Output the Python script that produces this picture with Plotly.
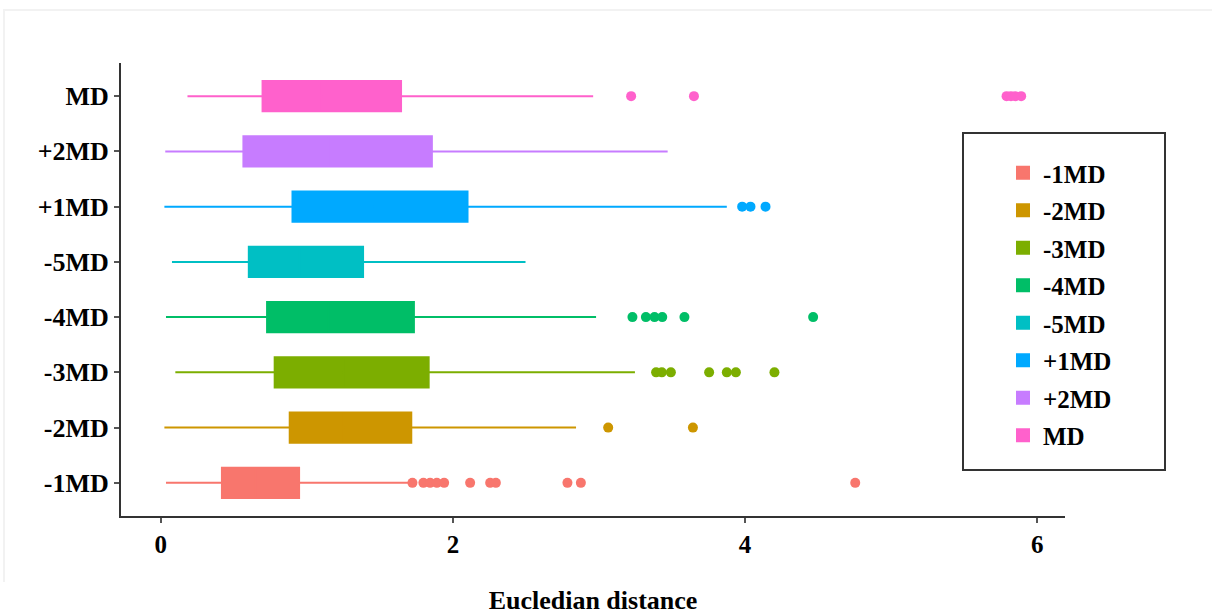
import plotly.graph_objects as go

categories = ["-1MD", "-2MD", "-3MD", "-4MD", "-5MD", "+1MD", "+2MD", "MD"]
colors = ["#F8766D", "#CD9600", "#7CAE00", "#00BE67", "#00BFC4", "#00A9FF", "#C77CFF", "#FF61CC"]

lower_whisker = [0.036, 0.025, 0.100, 0.036, 0.077, 0.025, 0.031, 0.183]
q1 = [0.419, 0.883, 0.780, 0.728, 0.603, 0.902, 0.566, 0.697]
median = [0.65, 1.25, 1.25, 1.15, 0.95, 1.45, 1.15, 1.10]
q3 = [0.947, 1.715, 1.834, 1.733, 1.385, 2.100, 1.856, 1.645]
upper_whisker = [1.700, 2.843, 3.246, 2.980, 2.497, 3.875, 3.470, 2.960]

outliers_m1 = [1.723, 1.798, 1.844, 1.890, 1.940, 2.118, 2.255, 2.294, 2.784, 2.876, 4.754]
outliers_m2 = [3.063, 3.643]
outliers_m3 = [3.391, 3.430, 3.492, 3.754, 3.875, 3.937, 4.201]
outliers_m4 = [3.229, 3.321, 3.380, 3.433, 3.585, 4.466]
outliers_m5 = []
outliers_p1 = [3.980, 4.037, 4.140]
outliers_p2 = []
outliers_md = [3.220, 3.650, 5.790, 5.820, 5.850, 5.890]

outliers = [outliers_m1, outliers_m2, outliers_m3, outliers_m4,
            outliers_m5, outliers_p1, outliers_p2, outliers_md]

font_family = "Liberation Serif"

fig = go.Figure()
for i, cat in enumerate(categories):
    fig.add_trace(go.Box(
        y=[cat], q1=[q1[i]], median=[median[i]], q3=[q3[i]],
        lowerfence=[lower_whisker[i]], upperfence=[upper_whisker[i]],
        orientation="h", name=cat, boxpoints=False,
        fillcolor=colors[i], line=dict(color=colors[i], width=2),
        whiskerwidth=0, legendgroup=cat, showlegend=True,
    ))
for i, cat in enumerate(categories):
    if outliers[i]:
        fig.add_trace(go.Scatter(
            x=outliers[i], y=[cat] * len(outliers[i]), mode="markers",
            marker=dict(color=colors[i], size=10), showlegend=False,
            legendgroup=cat, hoverinfo="x",
        ))

W, H = 1212, 615
ml, mr, mt, mb = 121, 147, 63, 99
pw, ph = W - ml - mr, H - mt - mb

def px2paper_x(p):
    return (p - ml) / pw

def px2paper_y(p):
    return (H - mb - p) / ph

fig.update_layout(
    width=W, height=H,
    margin=dict(l=ml, r=mr, t=mt, b=mb),
    paper_bgcolor="white", plot_bgcolor="white",
    boxmode="overlay", boxgap=0.22,
    font=dict(family=font_family, color="black", size=26),
    xaxis=dict(
        range=[-0.272, 6.19], tickvals=[0, 2, 4, 6], ticktext=["0", "2", "4", "6"],
        showgrid=False, zeroline=False, showline=True, linecolor="#333333", linewidth=2,
        ticks="outside", ticklen=5, tickcolor="#555555", tickwidth=2,
        tickfont=dict(family=font_family, size=25, color="black", weight="bold"),
        title=dict(text="<b>Eucledian distance</b>", standoff=36,
                   font=dict(family=font_family, size=26, color="black")),
        automargin=False,
    ),
    yaxis=dict(
        categoryorder="array", categoryarray=categories, range=[-0.6, 7.6],
        showgrid=False, zeroline=False, showline=True, linecolor="#333333", linewidth=2,
        ticks="outside", ticklen=5, tickcolor="#555555", tickwidth=2,
        tickfont=dict(family=font_family, size=26, color="black", weight="bold"),
        automargin=False,
    ),
    legend=dict(
        x=px2paper_x(1003), y=px2paper_y(150), xanchor="left", yanchor="top",
        bgcolor="rgba(0,0,0,0)", borderwidth=0, tracegroupgap=2,
        font=dict(family=font_family, size=25, color="black", weight="bold"),
    ),
    shapes=[
        dict(type="rect", xref="paper", yref="paper",
             x0=px2paper_x(963), x1=px2paper_x(1165), y0=px2paper_y(470), y1=px2paper_y(133),
             line=dict(color="#333333", width=2), fillcolor="rgba(0,0,0,0)", layer="below"),
        dict(type="path", xref="paper", yref="paper",
             path=f"M {px2paper_x(4)} {px2paper_y(582)} L {px2paper_x(4)} {px2paper_y(10)} L {px2paper_x(1212)} {px2paper_y(10)}",
             line=dict(color="#f2f2f2", width=2)),
    ],
)

fig.write_html("out.html")
